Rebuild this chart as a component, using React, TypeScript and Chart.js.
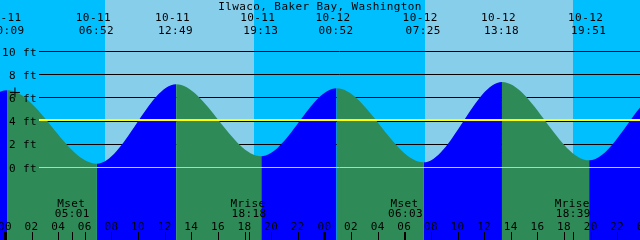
import React, { useEffect, useRef } from "react";
import { Chart, registerables } from "chart.js";

Chart.register(...registerables);

const TITLE = "Ilwaco, Baker Bay, Washington";

// Tide extremes: hours after 10-11 00:00, height in feet (outer points lie outside the view)
const tideHours = [-12.4, -6.2, 0.15, 6.867, 12.817, 19.217, 24.867, 31.417, 37.3, 43.85, 49.6, 56.2];
const tideFeet = [6.9, 1.1, 6.66, 0.33, 7.18, 0.97, 6.83, 0.45, 7.38, 0.62, 6.8, 0.5];

// Labelled tide events (top of chart)
const eventDates = ["10-11", "10-11", "10-11", "10-11", "10-12", "10-12", "10-12", "10-12"];
const eventTimes = ["00:09", "06:52", "12:49", "19:13", "00:52", "07:25", "13:18", "19:51"];

// Sun (day bands)
const sunriseHours = [7.48, 31.52];
const sunsetHours = [18.67, 42.61];

// Moon events
const moonNames = ["Mset", "Mrise", "Mset", "Mrise"];
const moonDates = ["10-11", "10-11", "10-12", "10-12"];
const moonTimes = ["05:01", "18:18", "06:03", "18:39"];

// Hour axis
const hourTicks = [0, 2, 4, 6, 8, 10, 12, 14, 16, 18, 20, 22, 24, 26, 28, 30, 32, 34, 36, 38, 40, 42, 44, 46, 48];
const hourLabels = ["00", "02", "04", "06", "08", "10", "12", "14", "16", "18", "20", "22", "00", "02", "04", "06", "08", "10", "12", "14", "16", "18", "20", "22", "00"];

// Height axis
const gridFeet = [0, 2, 4, 6, 8, 10];
const gridLabels = ["0 ft", "2 ft", "4 ft", "6 ft", "8 ft", "10 ft"];
const mslFeet = 4.07;
const datumFeet = 0;

// Current-time marker
const nowHour = [0.71];
const nowFeet = [6.47];

const X_MIN = -0.413;
const X_MAX = 47.67;
const Y_MIN = -6.25;
const Y_MAX = 14.44;

const NIGHT = "#00BFFF";
const DAY = "#87CEEB";
const FLOOD = "#0000FF";
const EBB = "#2E8B57";
const MSL = "#FFFF00";
const DATUM = "#9ED8EE";
const FONT = '11px "DejaVu Sans Mono", "Liberation Mono", monospace';
const GRID_LEFT = 39;

function toHour(date: string, time: string): number {
  const day = parseInt(date.split("-")[1], 10) - 11;
  const [hh, mm] = time.split(":").map((s) => parseInt(s, 10));
  return day * 24 + hh + mm / 60;
}

const half = (v: number) => Math.floor(v) + 0.5;

const tidePlugin = {
  id: "tidePlugin",
  beforeDatasetsDraw(chart: any) {
    const { ctx, chartArea: a, scales } = chart;
    const xs = scales.x;
    const ys = scales.y;
    ctx.save();
    ctx.fillStyle = NIGHT;
    ctx.fillRect(a.left, a.top, a.right - a.left, a.bottom - a.top);
    ctx.fillStyle = DAY;
    sunriseHours.forEach((r, i) => {
      const x0 = Math.round(xs.getPixelForValue(r));
      const x1 = Math.round(xs.getPixelForValue(sunsetHours[i]));
      ctx.fillRect(x0, a.top, x1 - x0, a.bottom - a.top);
    });
    ctx.strokeStyle = "#000";
    ctx.lineWidth = 1;
    gridFeet.forEach((f) => {
      if (f === datumFeet) return;
      const y = half(ys.getPixelForValue(f));
      ctx.beginPath();
      ctx.moveTo(GRID_LEFT, y);
      ctx.lineTo(a.right, y);
      ctx.stroke();
    });
    ctx.restore();
  },
  afterDatasetsDraw(chart: any) {
    const { ctx, chartArea: a, scales } = chart;
    const xs = scales.x;
    const ys = scales.y;
    ctx.save();
    // mean sea level
    ctx.fillStyle = MSL;
    const ym = Math.round(ys.getPixelForValue(mslFeet));
    ctx.fillRect(GRID_LEFT, ym - 1, a.right - GRID_LEFT, 2);
    // datum
    ctx.strokeStyle = DATUM;
    ctx.lineWidth = 1;
    const yd = half(ys.getPixelForValue(datumFeet));
    ctx.beginPath();
    ctx.moveTo(GRID_LEFT, yd);
    ctx.lineTo(a.right, yd);
    ctx.stroke();

    ctx.font = FONT;
    try {
      (ctx as any).letterSpacing = "0.4px";
    } catch (e) {}
    ctx.fillStyle = "#000";
    ctx.textBaseline = "alphabetic";

    // height labels
    ctx.textAlign = "right";
    gridFeet.forEach((f, i) => {
      const y = ys.getPixelForValue(f);
      ctx.fillText(gridLabels[i], 37, Math.round(y) + 4);
    });

    // title
    ctx.textAlign = "center";
    ctx.fillText(TITLE, (a.left + a.right) / 2, 10);

    // tide event labels
    eventDates.forEach((d, i) => {
      const x = xs.getPixelForValue(toHour(d, eventTimes[i]));
      ctx.fillText(d, x - 3.5, 21);
      ctx.fillText(eventTimes[i], x - 0.5, 34);
    });

    // moon labels and ticks
    moonNames.forEach((n, i) => {
      const x = xs.getPixelForValue(toHour(moonDates[i], moonTimes[i]));
      ctx.fillText(n, x - 1, 207);
      ctx.fillText(moonTimes[i], x, 217);
      ctx.fillRect(Math.floor(x), 232, 1, 8);
    });

    // hour ticks and labels
    hourTicks.forEach((h, i) => {
      const x = xs.getPixelForValue(h);
      ctx.fillText(hourLabels[i], x - 0.5, 230);
      if (h % 24 === 0) {
        ctx.fillRect(Math.floor(x) - 1, 232, 3, 8);
      } else {
        ctx.fillRect(Math.floor(x), 232, 1, 8);
      }
    });
    ctx.restore();
  },
};

export default function App() {
  const canvasRef = useRef<HTMLCanvasElement | null>(null);

  useEffect(() => {
    const canvas = canvasRef.current;
    if (!canvas) return;
    const tidePoints = tideHours.map((h, i) => ({ x: h, y: tideFeet[i] }));
    const nowPoints = nowHour.map((h, i) => ({ x: h, y: nowFeet[i] }));
    const chart = new Chart(canvas, {
      type: "line",
      data: {
        datasets: [
          {
            type: "scatter",
            data: nowPoints,
            pointStyle: "cross",
            pointRadius: 5,
            borderColor: "#000",
            backgroundColor: "#000",
            borderWidth: 1,
            order: 0,
          } as any,
          {
            type: "line",
            data: tidePoints,
            fill: "start",
            borderWidth: 0,
            pointRadius: 0,
            cubicInterpolationMode: "monotone",
            backgroundColor: EBB,
            segment: {
              backgroundColor: (c: any) => (c.p1.parsed.y >= c.p0.parsed.y ? FLOOD : EBB),
            },
            order: 1,
          } as any,
        ],
      },
      options: {
        animation: false,
        responsive: false,
        devicePixelRatio: 1,
        layout: { padding: 0, autoPadding: false },
        events: [],
        plugins: {
          legend: { display: false },
          tooltip: { enabled: false },
          title: { display: false },
        },
        scales: {
          x: { type: "linear", min: X_MIN, max: X_MAX, display: false },
          y: { type: "linear", min: Y_MIN, max: Y_MAX, display: false },
        },
      },
      plugins: [tidePlugin],
    });
    return () => chart.destroy();
  }, []);

  return (
    <div style={{ position: "fixed", left: 0, top: 0, width: 640, height: 240 }}>
      <canvas ref={canvasRef} width={640} height={240} style={{ display: "block" }} />
    </div>
  );
}
